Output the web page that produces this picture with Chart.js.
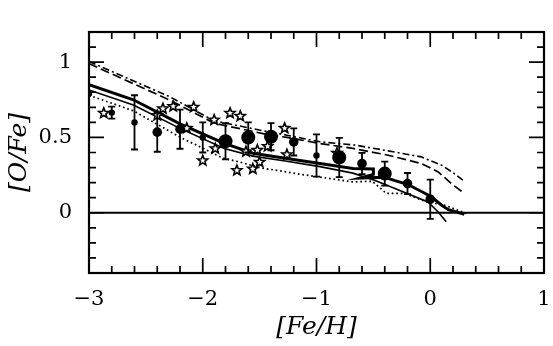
<!DOCTYPE html>
<html>
<head>
<meta charset="utf-8">
<script src="https://cdn.jsdelivr.net/npm/chart.js@4/dist/chart.umd.min.js"></script>
<style>
  html, body { margin: 0; padding: 0; background: #fff; }
</style>
</head>
<body>
<canvas id="chart" width="553" height="346"></canvas>
<script>
// model curves, [Fe/H] vs [O/Fe]
const thickFeH = [-3.0, -2.61, -2.2, -1.81, -1.56, -1.26, -0.97, -0.68, -0.50, -0.50, -0.62, -0.40, -0.31, -0.20, 0.01, 0.10, 0.16, 0.30];
const thickOFe = [0.85, 0.75, 0.59, 0.46, 0.395, 0.36, 0.327, 0.294, 0.29, 0.255, 0.23, 0.235, 0.213, 0.189, 0.106, 0.05, 0.02, -0.01];

const thinFeH = [-3.0, -2.61, -2.2, -1.81, -1.56, -1.26, -0.97, -0.68, -0.49, -0.31, -0.02, 0.07, 0.14];
const thinOFe = [0.815, 0.715, 0.56, 0.426, 0.376, 0.342, 0.306, 0.263, 0.216, 0.161, 0.072, 0.005, -0.06];

const dottedFeH = [-3.0, -2.61, -2.2, -1.82, -1.67, -1.5, -1.32, -1.12, -0.88, -0.68, -0.51, -0.385, -0.225, -0.034, 0.126, 0.243, 0.32];
const dottedOFe = [0.78, 0.677, 0.502, 0.362, 0.336, 0.299, 0.278, 0.253, 0.227, 0.205, 0.209, 0.128, 0.128, 0.072, 0.05, 0.017, -0.005];

const dashedFeH = [-3.0, -2.29, -1.9, -1.44, -1.26, -0.97, -0.68, -0.37, -0.08, 0.07, 0.185, 0.30];
const dashedOFe = [0.99, 0.748, 0.595, 0.52, 0.50, 0.46, 0.427, 0.382, 0.327, 0.271, 0.194, 0.128];

const dashDotFeH = [-3.0, -2.29, -1.9, -1.44, -1.26, -0.97, -0.66, -0.37, -0.08, 0.10, 0.21, 0.30];
const dashDotOFe = [1.005, 0.77, 0.61, 0.54, 0.515, 0.471, 0.449, 0.411, 0.371, 0.316, 0.261, 0.209];

const zeroFeH = [-3, 1];
const zeroOFe = [0, 0];

// observations: filled circles with error bars, split by symbol size
const smallFeH = [-3.0, -2.8, -2.6, -2.0, -1.0];
const smallOFe = [0.79, 0.665, 0.60, 0.50, 0.38];
const smallErr = [0, 0.04, 0.18, 0.10, 0.14];

const midFeH = [-2.4, -2.2, -1.2, -0.6, -0.2, 0.0];
const midOFe = [0.535, 0.555, 0.47, 0.327, 0.194, 0.09];
const midErr = [0.13, 0.13, 0.09, 0.07, 0.07, 0.13];

const bigFeH = [-1.8, -1.6, -1.4, -0.8, -0.4];
const bigOFe = [0.475, 0.50, 0.505, 0.367, 0.26];
const bigErr = [0.12, 0.10, 0.09, 0.13, 0.08];

// open stars
const starFeH = [-2.87, -2.40, -2.35, -2.26, -2.08, -2.14, -1.90, -1.76, -1.67, -2.00, -1.89, -1.62, -1.70, -1.56, -1.52, -1.50, -1.43, -1.28, -1.26, -0.82];
const starOFe = [0.665, 0.65, 0.695, 0.71, 0.705, 0.565, 0.62, 0.665, 0.645, 0.35, 0.43, 0.41, 0.285, 0.295, 0.42, 0.34, 0.445, 0.565, 0.39, 0.40];

function points(xs, ys) {
  return xs.map((x, i) => ({ x: x, y: ys[i] }));
}

function minus(v) {
  return String(v).replace("-", "\u2212");
}

function lineSet(xs, ys, width, dash) {
  return {
    data: points(xs, ys),
    showLine: true,
    borderColor: "#000",
    borderWidth: width,
    borderDash: dash,
    pointRadius: 0,
    fill: false
  };
}

function dotSet(xs, ys, errs, radius) {
  return {
    data: points(xs, ys),
    errors: errs,
    showLine: false,
    pointRadius: radius,
    pointBackgroundColor: "#000",
    pointBorderColor: "#000",
    pointBorderWidth: 0
  };
}

// open five-point stars, drawn at the positions Chart.js computed for the star dataset
const starMarks = {
  id: "starMarks",
  afterDatasetDraw(chart, args) {
    const ds = chart.data.datasets[args.index];
    if (!ds.openStars) return;
    const ctx = chart.ctx;
    ctx.save();
    ctx.lineWidth = 1.6;
    ctx.lineJoin = "miter";
    ctx.strokeStyle = "#000";
    ctx.fillStyle = "#fff";
    args.meta.data.forEach(el => {
      ctx.beginPath();
      for (let i = 0; i < 10; i++) {
        const r = i % 2 === 0 ? 5.3 : 2.3;
        const a = -Math.PI / 2 + i * Math.PI / 5;
        ctx.lineTo(el.x + r * Math.cos(a), el.y + 0.6 + r * Math.sin(a));
      }
      ctx.closePath();
      ctx.fill();
      ctx.stroke();
    });
    ctx.restore();
  }
};

const errorBars = {
  id: "errorBars",
  afterDatasetsDraw(chart) {
    const ctx = chart.ctx;
    const xs = chart.scales.x;
    const ys = chart.scales.y;
    ctx.save();
    ctx.strokeStyle = "#000";
    ctx.lineWidth = 1.8;
    chart.data.datasets.forEach(ds => {
      if (!ds.errors) return;
      ds.data.forEach((p, i) => {
        const e = ds.errors[i];
        if (!e) return;
        const px = xs.getPixelForValue(p.x);
        const top = ys.getPixelForValue(p.y + e);
        const bot = ys.getPixelForValue(p.y - e);
        ctx.beginPath();
        ctx.moveTo(px, top);
        ctx.lineTo(px, bot);
        ctx.moveTo(px - 3.5, top);
        ctx.lineTo(px + 3.5, top);
        ctx.moveTo(px - 3.5, bot);
        ctx.lineTo(px + 3.5, bot);
        ctx.stroke();
      });
    });
    ctx.restore();
  }
};

// box frame with inward ticks on all four sides
const frame = {
  id: "frame",
  afterDraw(chart) {
    const ctx = chart.ctx;
    const a = chart.chartArea;
    const xs = chart.scales.x;
    const ys = chart.scales.y;
    ctx.save();
    ctx.strokeStyle = "#000";
    ctx.lineWidth = 2.2;
    ctx.strokeRect(a.left, a.top, a.right - a.left, a.bottom - a.top);
    ctx.lineWidth = 1.7;
    ctx.beginPath();
    xs.ticks.forEach(t => {
      const px = xs.getPixelForValue(t.value);
      const len = Math.abs(t.value - Math.round(t.value)) < 1e-6 ? 15 : 7;
      ctx.moveTo(px, a.bottom);
      ctx.lineTo(px, a.bottom - len);
      ctx.moveTo(px, a.top);
      ctx.lineTo(px, a.top + len);
    });
    ys.ticks.forEach(t => {
      const py = ys.getPixelForValue(t.value);
      const len = Math.abs(t.value * 2 - Math.round(t.value * 2)) < 1e-6 ? 15 : 7;
      ctx.moveTo(a.left, py);
      ctx.lineTo(a.left + len, py);
      ctx.moveTo(a.right, py);
      ctx.lineTo(a.right - len, py);
    });
    ctx.stroke();
    ctx.restore();
  }
};

const tickFont = { family: "DejaVu Serif", size: 21 };
const titleFont = { family: "DejaVu Serif", size: 25, style: "italic" };

new Chart(document.getElementById("chart"), {
  type: "scatter",
  data: {
    datasets: [
      dotSet(bigFeH, bigOFe, bigErr, 7),
      dotSet(midFeH, midOFe, midErr, 4.8),
      dotSet(smallFeH, smallOFe, smallErr, 3.2),
      {
        data: points(starFeH, starOFe),
        openStars: true,
        showLine: false,
        pointRadius: 0
      },
      lineSet(thickFeH, thickOFe, 3, []),
      lineSet(thinFeH, thinOFe, 1.6, []),
      lineSet(dottedFeH, dottedOFe, 1.7, [1.7, 2.8]),
      lineSet(dashedFeH, dashedOFe, 1.7, [9, 4]),
      lineSet(dashDotFeH, dashDotOFe, 1.6, [7, 3, 2, 3]),
      lineSet(zeroFeH, zeroOFe, 1.8, [])
    ]
  },
  options: {
    responsive: false,
    animation: false,
    devicePixelRatio: 1,
    layout: { padding: { top: 32, right: 9, left: 0, bottom: 0 } },
    plugins: {
      legend: { display: false },
      tooltip: { enabled: false }
    },
    scales: {
      x: {
        type: "linear",
        min: -3,
        max: 1,
        grid: { display: false, drawTicks: false },
        border: { display: false },
        ticks: {
          stepSize: 0.2,
          autoSkip: false,
          maxRotation: 0,
          padding: 14,
          color: "#000",
          font: tickFont,
          callback: v => Math.abs(v - Math.round(v)) < 1e-6 ? minus(Math.round(v)) : ""
        },
        title: {
          display: true,
          text: "[Fe/H]",
          color: "#000",
          font: titleFont,
          padding: { top: 0, bottom: 4 }
        },
        afterFit: scale => {
          scale.height = 73;
          scale.paddingLeft = 0;
          scale.paddingRight = 0;
        }
      },
      y: {
        type: "linear",
        min: -0.4,
        max: 1.2,
        grid: { display: false, drawTicks: false },
        border: { display: false },
        ticks: {
          stepSize: 0.1,
          autoSkip: false,
          padding: 17,
          color: "#000",
          font: tickFont,
          callback: v => Math.abs(v * 2 - Math.round(v * 2)) < 1e-6 ? minus(Math.round(v * 2) / 2) : ""
        },
        title: {
          display: true,
          text: "[O/Fe]",
          color: "#000",
          font: titleFont,
          padding: { top: 4, bottom: 0 }
        },
        afterFit: scale => {
          scale.width = 89;
          scale.paddingTop = 0;
          scale.paddingBottom = 0;
        }
      }
    }
  },
  plugins: [starMarks, errorBars, frame]
});
</script>
</body>
</html>
